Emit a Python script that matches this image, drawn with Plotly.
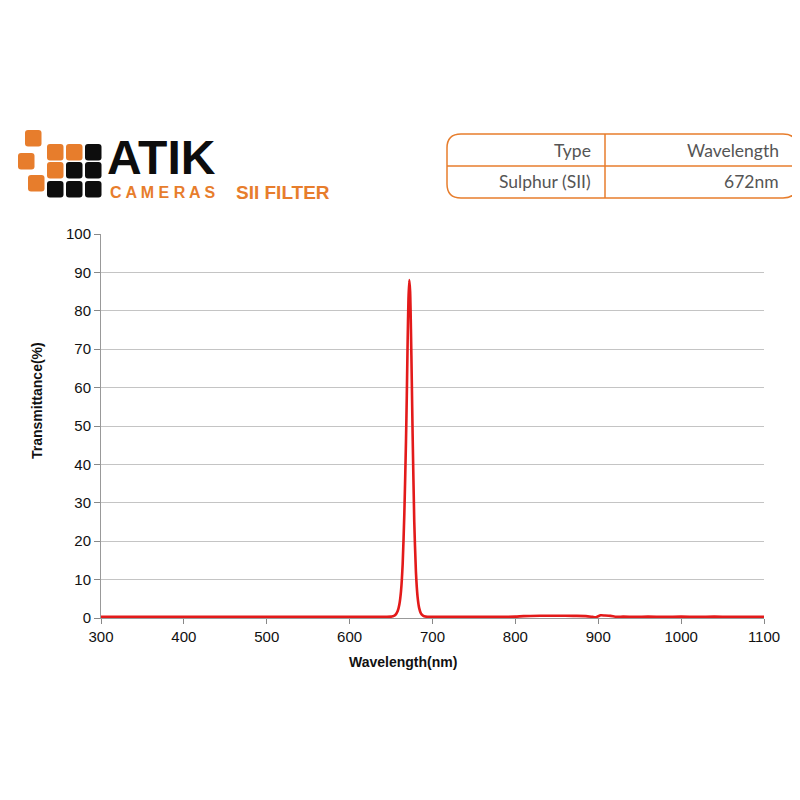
import plotly.graph_objects as go

# ---- data ----
wavelength_nm = [300, 350, 400, 450, 500, 550, 600, 630, 645, 650, 652, 654, 656, 658, 660,
                 662, 664, 666, 668, 669, 670, 671, 672, 673, 674, 675, 676, 678, 680,
                 682, 684, 686, 688, 690, 694, 700, 720, 750, 780, 800, 810, 830, 850,
                 870, 885, 893, 897, 903, 908, 915, 922, 930, 945, 960, 980, 1000,
                 1020, 1040, 1060, 1080, 1100]
transmittance_pct = [0.3, 0.3, 0.3, 0.3, 0.3, 0.3, 0.3, 0.3, 0.3, 0.35, 0.45, 0.6, 1.0, 1.8, 3.5,
                     7.0, 14.0, 27.0, 46.0, 58.0, 72.0, 83.0, 88.0, 85.0, 75.0, 62.0, 48.0, 25.0, 12.0,
                     5.5, 2.5, 1.2, 0.7, 0.45, 0.3, 0.3, 0.3, 0.3, 0.3, 0.35, 0.5, 0.6, 0.6,
                     0.55, 0.5, 0.3, 0.2, 0.7, 0.65, 0.55, 0.3, 0.35, 0.3, 0.35, 0.3, 0.35,
                     0.3, 0.35, 0.3, 0.3, 0.3]

x_ticks = [300, 400, 500, 600, 700, 800, 900, 1000, 1100]
y_ticks = [0, 10, 20, 30, 40, 50, 60, 70, 80, 90, 100]

table_header = ["Type", "Wavelength"]
table_row = ["Sulphur (SII)", "672nm"]

# ---- layout geometry (window pixels; page body has an 8px offset) ----
OFF = 8
W, H = 784, 784
L, R, T, B = 101 - OFF, 764 - OFF, 234 - OFF, 618 - OFF


def px(x):
    return (x - OFF - L) / (R - L)


def py(y):
    return (B - (y - OFF)) / (B - T)


fig = go.Figure()
fig.add_trace(go.Scatter(
    x=wavelength_nm, y=transmittance_pct, mode="lines",
    line=dict(color="#e31a1a", width=2.6, shape="spline", smoothing=0.6),
    hoverinfo="x+y", showlegend=False))

shapes = []
ORANGE = "#e77d2c"
BLACK = "#0d0d0d"


def rounded(x0, y0, x1, y1, r):
    return (f"M {px(x0 + r)},{py(y0)} L {px(x1 - r)},{py(y0)} Q {px(x1)},{py(y0)} {px(x1)},{py(y0 + r)} "
            f"L {px(x1)},{py(y1 - r)} Q {px(x1)},{py(y1)} {px(x1 - r)},{py(y1)} "
            f"L {px(x0 + r)},{py(y1)} Q {px(x0)},{py(y1)} {px(x0)},{py(y1 - r)} "
            f"L {px(x0)},{py(y0 + r)} Q {px(x0)},{py(y0)} {px(x0 + r)},{py(y0)} Z")


# logo squares (pixel boxes)
squares = [
    (25, 130, ORANGE), (18, 153, ORANGE), (28, 175, ORANGE),
    (47, 144, ORANGE), (66, 144, ORANGE), (85, 144, BLACK),
    (47, 162, ORANGE), (66, 162, BLACK), (85, 162, BLACK),
    (47, 181, BLACK), (66, 181, BLACK), (85, 181, BLACK),
]
for sx, sy, c in squares:
    s = 16.5
    shapes.append(dict(type="path", xref="paper", yref="paper",
                       path=rounded(sx, sy, sx + s, sy + s, 3),
                       fillcolor=c, line=dict(width=0)))

# table rounded rectangle
tx0, tx1, ty0, ty1 = 447, 797, 134, 198
shapes.append(dict(type="path", xref="paper", yref="paper", path=rounded(tx0, ty0, tx1, ty1, 14),
                   line=dict(color=ORANGE, width=1.5), fillcolor="rgba(0,0,0,0)"))
shapes.append(dict(type="line", xref="paper", yref="paper", x0=px(tx0), x1=px(tx1),
                   y0=py(166), y1=py(166), line=dict(color=ORANGE, width=1.5)))
shapes.append(dict(type="line", xref="paper", yref="paper", x0=px(605), x1=px(605),
                   y0=py(ty0), y1=py(ty1), line=dict(color=ORANGE, width=1.5)))

annotations = []
# logo text
annotations.append(dict(text="<b>ATIK</b>", x=px(105), y=py(158), xref="paper", yref="paper",
                        xanchor="left", yanchor="middle", showarrow=False,
                        font=dict(family="Liberation Sans, Arial", size=48, color=BLACK)))
annotations.append(dict(text="<b>C A M E R A S</b>", x=px(108), y=py(192), xref="paper", yref="paper",
                        xanchor="left", yanchor="middle", showarrow=False,
                        font=dict(family="Liberation Sans, Arial", size=16, color=ORANGE)))
annotations.append(dict(text="<b>SII FILTER</b>", x=px(234), y=py(192), xref="paper", yref="paper",
                        xanchor="left", yanchor="middle", showarrow=False,
                        font=dict(family="Liberation Sans, Arial", size=19, color=ORANGE)))
# table text
for txt, xr, yc in [(table_header[0], 593, 150), (table_header[1], 781, 150),
                    (table_row[0], 593, 182), (table_row[1], 781, 182)]:
    annotations.append(dict(text=txt, x=px(xr), y=py(yc), xref="paper", yref="paper",
                            xanchor="right", yanchor="middle", showarrow=False,
                            font=dict(family="Lato, Open Sans, sans-serif", size=17.5, color="#555555")))
# axis titles (placed as in the reference, not centred on the plot)
annotations.append(dict(text="<b>Wavelength(nm)</b>", x=px(403), y=py(662), xref="paper", yref="paper",
                        xanchor="center", yanchor="middle", showarrow=False,
                        font=dict(family="Liberation Sans, Arial", size=14, color="#111111")))
annotations.append(dict(text="<b>Transmittance(%)</b>", x=px(37), y=py(401), xref="paper", yref="paper",
                        xanchor="center", yanchor="middle", showarrow=False, textangle=-90,
                        font=dict(family="Liberation Sans, Arial", size=14, color="#111111")))

fig.update_layout(
    width=W, height=H,
    margin=dict(l=L, r=W - R, t=T, b=H - B, pad=0),
    paper_bgcolor="white", plot_bgcolor="white",
    shapes=shapes, annotations=annotations,
    font=dict(family="Liberation Sans, Arial", size=15, color="#111111"),
    xaxis=dict(range=[300, 1100], tickvals=x_ticks, ticks="outside", ticklen=5,
               tickcolor="#888888", showgrid=False, zeroline=False,
               showline=True, linecolor="#999999", linewidth=1,
               tickfont=dict(size=15)),
    yaxis=dict(range=[0, 100], tickvals=y_ticks, ticks="outside", ticklen=6,
               tickcolor="#888888", showgrid=True, gridcolor="#c4c4c4", gridwidth=1,
               zeroline=False, showline=True, linecolor="#999999", linewidth=1,
               tickfont=dict(size=15)),
)

fig.write_html("out.html")
